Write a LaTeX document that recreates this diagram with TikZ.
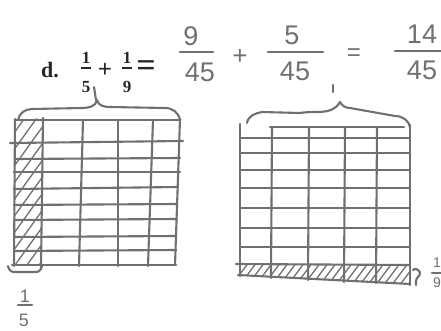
\documentclass[tikz,border=0pt]{standalone}
\usepackage{fontspec}
\newfontfamily\handfont{Liberation Sans}
\newfontfamily\printfont{Liberation Serif}
\definecolor{handgray}{RGB}{112,112,112}
\definecolor{printgray}{RGB}{40,40,40}
\begin{document}
\begin{tikzpicture}[x=1pt,y=-1pt,
  hand/.style={draw=handgray,line width=2.1pt,line cap=round,line join=round},
  hatch/.style={draw=handgray,line width=1.3pt,line cap=round},
  htext/.style={text=handgray,font=\handfont\fontsize{27}{27}\selectfont,inner sep=0pt},
  hsmall/.style={text=handgray,font=\handfont\fontsize{18}{18}\selectfont,inner sep=0pt},
  ptext/.style={text=printgray,font=\printfont\bfseries\fontsize{17}{17}\selectfont,inner sep=0pt},
  pbar/.style={draw=printgray,line width=1.5pt}]
\useasboundingbox (0,0) rectangle (441,331);
\fill[white] (0,0) rectangle (441,331);

% ---------- printed part ----------
\node[ptext,font=\printfont\bfseries\fontsize{22}{22}\selectfont] (dlab) at (50,70) {d.};
\node[ptext] (n1) at (86,58) {1};
\draw[pbar] (81,68) -- (91,68);
\node[ptext] (d1) at (86,87) {5};
\node[ptext,font=\printfont\bfseries\fontsize{25}{25}\selectfont] (plus1) at (105,70) {+};
\node[ptext] (n2) at (127,58) {1};
\draw[pbar] (122,68) -- (132,68);
\node[ptext] (d2) at (127,87) {9};
\node[ptext,font=\printfont\bfseries\fontsize{34}{34}\selectfont] (eq1) at (146,69) {=};

% ---------- handwritten equation ----------
\node[htext] (hn1) at (191,36) {9};
\draw[hand] (180,52) -- (213,52);
\node[htext] (hd1) at (200,72) {45};
\node[htext,font=\handfont\fontsize{26}{26}\selectfont] (hplus) at (240,57) {+};
\node[htext] (hn2) at (292,35) {5};
\draw[hand] (268,52) -- (323,52);
\node[htext] (hd2) at (295,71) {45};
\draw[hand] (333,85) -- (333,92);
\node[htext,font=\handfont\fontsize{24}{24}\selectfont] (heq) at (354,55) {=};
\node[htext] (hn3) at (422,34) {14};
\draw[hand] (395,51) -- (441,51);
\node[htext] (hd3) at (422,70) {45};

% ---------- left grid ----------
\begin{scope}
\clip (15,120) -- (43,118) -- (41,266) -- (14,265) -- cycle;
\foreach \a in {-110,-98,...,50}
  \draw[hatch] (\a,272) -- ({\a+0.72*160},112);
\end{scope}
% verticals
\draw[hand] (15,119) -- (14,266);
\draw[hand] (43,118) -- (41,268);
\draw[hand] (83,120) -- (79,266);
\draw[hand] (118,120) -- (118,266);
\draw[hand] (153,120) -- (148,266);
\draw[hand] (180,119) -- (175,265);
% horizontals
\draw[hand] (15,120) -- (180,120);
\draw[hand] (10,143) -- (183,141);
\draw[hand] (15,159) -- (180,158);
\draw[hand] (14,172) -- (180,172);
\draw[hand] (14,189) -- (178,187);
\draw[hand] (14,205) -- (177,204);
\draw[hand] (14,220) -- (177,219);
\draw[hand] (14,237) -- (176,236);
\draw[hand] (14,251) -- (176,250);
\draw[hand] (12,265) -- (176,265);
% top brace
\draw[hand] (18,120) to[out=80,in=180] (32,109) -- (82,108)
  to[out=0,in=-100] (97,100) to[out=-80,in=180] (110,107) -- (165,108)
  to[out=0,in=100] (180,120);
\draw[hand] (94,87) -- (96,100);
% bottom brace and 1/5
\draw[hand] (8,266) to[out=-80,in=180] (14,272) -- (36,272) to[out=0,in=-100] (42,266);
\node[hsmall] (q1) at (25,296) {1};
\draw[hand] (18,305) -- (32,305);
\node[hsmall] (q5) at (24,320) {5};

% ---------- right grid ----------
\begin{scope}
\clip (240,263) -- (410,265) -- (410,284) -- (240,275) -- cycle;
\foreach \a in {180,188,...,420}
  \draw[hatch] (\a,290) -- ({\a+0.75*35},255);
\end{scope}
% verticals
\draw[hand] (240,124) -- (240,276);
\draw[hand] (272,127) -- (271,278);
\draw[hand] (309,127) -- (308,280);
\draw[hand] (345,127) -- (344,282);
\draw[hand] (377,127) -- (376,283);
\draw[hand] (410,125) -- (410,285);
% horizontals
\draw[hand] (270,127) -- (404,127);
\draw[hand] (240,138) -- (410,138);
\draw[hand] (240,153) -- (410,153);
\draw[hand] (240,170) -- (410,170);
\draw[hand] (240,188) -- (410,188);
\draw[hand] (240,208) -- (410,208);
\draw[hand] (240,228) -- (410,228);
\draw[hand] (240,247) -- (410,247);
\draw[hand] (236,264) -- (410,265);
\draw[hand] (238,275) -- (410,284);
% top brace
\draw[hand] (247,123) to[out=80,in=190] (262,112) -- (300,113)
  to[out=10,in=-120] (340,102) to[out=-60,in=180] (350,108) -- (395,116)
  to[out=0,in=95] (410,128);
% side mark and 1/9
\draw[hand] (413,270) to[out=60,in=90] (420,273) to[out=-90,in=90] (416,281) -- (416,285);
\node[hsmall,font=\handfont\fontsize{14}{14}\selectfont] (r1) at (437,263) {1};
\draw[hand] (432,273) -- (444,273);
\node[hsmall,font=\handfont\fontsize{14}{14}\selectfont] (r9) at (437,283) {9};
\end{tikzpicture}
\end{document}
